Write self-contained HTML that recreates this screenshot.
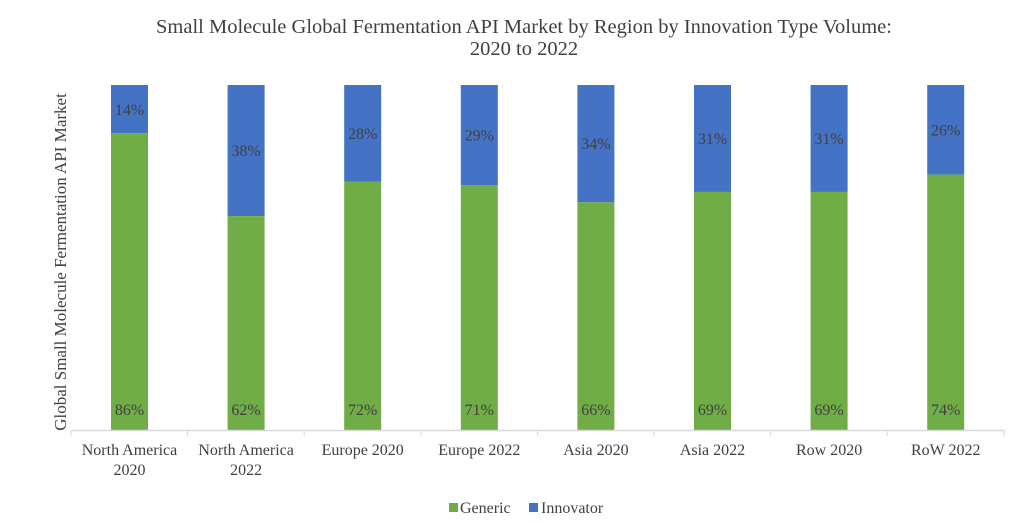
<!DOCTYPE html>
<html><head><meta charset="utf-8"><style>
body{margin:0;background:#fff;}
svg text{font-family:"Liberation Serif",serif;fill:#404040;}
</style></head><body>
<svg width="1024" height="522" xmlns="http://www.w3.org/2000/svg">
<text x="524" y="33" font-size="20.5" text-anchor="middle">Small Molecule Global Fermentation API Market by Region by Innovation Type Volume:</text>
<text x="524" y="55" font-size="20.5" text-anchor="middle">2020 to 2022</text>
<text transform="translate(66,262) rotate(-90)" font-size="17" text-anchor="middle">Global Small Molecule Fermentation API Market</text>
<g fill="#4472c4">
<rect x="111" y="85" width="37" height="48.3"/>
<rect x="227.6" y="85" width="37" height="131.1"/>
<rect x="344.2" y="85" width="37" height="96.6"/>
<rect x="460.8" y="85" width="37" height="100.05"/>
<rect x="577.4" y="85" width="37" height="117.3"/>
<rect x="694" y="85" width="37" height="106.95"/>
<rect x="810.6" y="85" width="37" height="106.95"/>
<rect x="927.2" y="85" width="37" height="89.7"/>
</g>
<g fill="#70ad47">
<rect x="111" y="133.3" width="37" height="296.7"/>
<rect x="227.6" y="216.1" width="37" height="213.9"/>
<rect x="344.2" y="181.6" width="37" height="248.4"/>
<rect x="460.8" y="185.05" width="37" height="244.95"/>
<rect x="577.4" y="202.3" width="37" height="227.7"/>
<rect x="694" y="191.95" width="37" height="238.05"/>
<rect x="810.6" y="191.95" width="37" height="238.05"/>
<rect x="927.2" y="174.7" width="37" height="255.3"/>
</g>
<g font-size="16" text-anchor="middle">
<text x="129.5" y="115">14%</text>
<text x="246.1" y="156">38%</text>
<text x="362.7" y="139">28%</text>
<text x="479.3" y="140.5">29%</text>
<text x="595.9" y="149">34%</text>
<text x="712.5" y="144">31%</text>
<text x="829.1" y="144">31%</text>
<text x="945.7" y="135.5">26%</text>
<text x="129.5" y="415">86%</text>
<text x="246.1" y="415">62%</text>
<text x="362.7" y="415">72%</text>
<text x="479.3" y="415">71%</text>
<text x="595.9" y="415">66%</text>
<text x="712.5" y="415">69%</text>
<text x="829.1" y="415">69%</text>
<text x="945.7" y="415">74%</text>
<text x="129.5" y="455">North America</text>
<text x="129.5" y="475">2020</text>
<text x="246.1" y="455">North America</text>
<text x="246.1" y="475">2022</text>
<text x="362.7" y="455">Europe 2020</text>
<text x="479.3" y="455">Europe 2022</text>
<text x="595.9" y="455">Asia 2020</text>
<text x="712.5" y="455">Asia 2022</text>
<text x="829.1" y="455">Row 2020</text>
<text x="945.7" y="455">RoW 2022</text>
</g>
<line x1="71" y1="430.5" x2="1004" y2="430.5" stroke="#d9d9d9" stroke-width="1.5"/>
<g stroke="#d9d9d9">
<line x1="71" y1="430" x2="71" y2="436"/><line x1="187.6" y1="430" x2="187.6" y2="436"/>
<line x1="304.2" y1="430" x2="304.2" y2="436"/><line x1="420.8" y1="430" x2="420.8" y2="436"/>
<line x1="537.4" y1="430" x2="537.4" y2="436"/><line x1="654" y1="430" x2="654" y2="436"/>
<line x1="770.6" y1="430" x2="770.6" y2="436"/><line x1="887.2" y1="430" x2="887.2" y2="436"/>
<line x1="1004" y1="430" x2="1004" y2="436"/>
</g>
<rect x="449" y="503" width="9" height="9" fill="#70ad47"/>
<text x="460" y="513" font-size="16">Generic</text>
<rect x="529" y="503" width="9" height="9" fill="#4472c4"/>
<text x="541" y="513" font-size="16">Innovator</text>
</svg>
</body></html>
